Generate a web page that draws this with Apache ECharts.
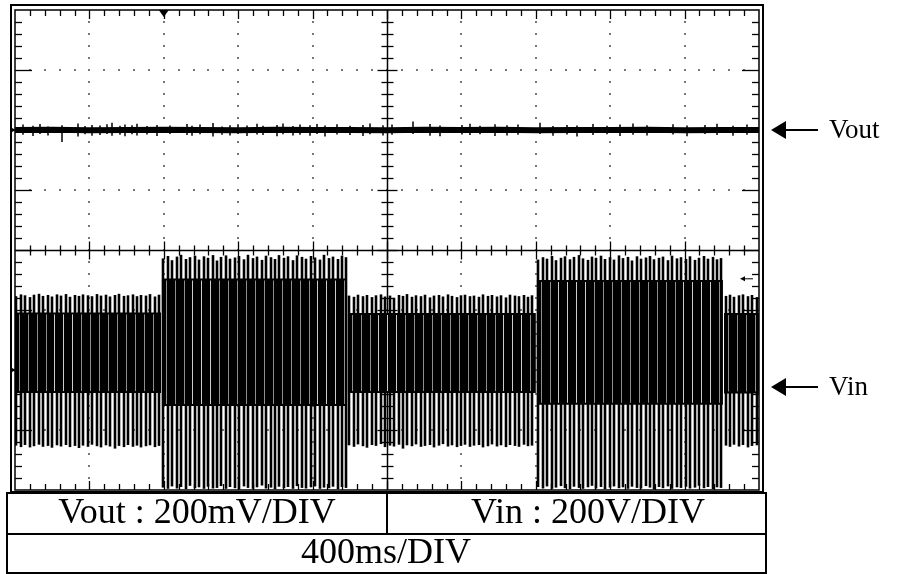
<!DOCTYPE html>
<html>
<head>
<meta charset="utf-8">
<script src="https://cdn.jsdelivr.net/npm/echarts@6/dist/echarts.min.js"></script>
<style>
html,body{margin:0;padding:0;background:#fff;}
#c{width:897px;height:574px;}
</style>
</head>
<body>
<div id="c"></div>
<script>
// ---------------- data ----------------
// Time axis: 400 ms / DIV, 10 DIV
const xTickLabels = ['0','400','800','1200','1600','2000','2400','2800','3200','3600','4000']; // ms (not displayed)
const scaleLabels = ['Vout : 200mV/DIV', 'Vin : 200V/DIV', '400ms/DIV'];
const traceNames = ['Vout', 'Vin'];

// Vout (ripple, mV) – baseline samples
const voutTimes  = [0,200,400,600,800,1000,1200,1400,1600,1800,2000,2200,2400,2600,2800,3000,3200,3400,3600,3800,4000];
const voutRipple = [0,1,-1,0,1,0,-1,1,0,0,-1,1,0,1,-1,0,0,1,-1,0,0];
// Vout noise spikes (ms, mV high, mV low)
const voutSpikeT  = [43,97,134,177,253,339,376,414,457,495,521,564,591,629,656,710,763,833,925,952,995,1064,1113,1156,1199,1247,1301,1333,1409,1441,1494,1532,1586,1624,1667,1731,1801,1871,1908,1978,2027,2140,2231,2285,2403,2446,2500,2580,2645,2704,2822,2892,2968,3021,3107,3183,3252,3322,3398,3537,3613,3709,3774,3860,3935];
const voutSpikeHi = [18,14,20,12,16,22,13,17,15,19,24,14,18,16,21,13,17,15,20,14,18,23,12,16,19,15,21,14,17,22,13,18,16,20,15,19,14,17,22,16,18,28,20,15,17,21,14,19,16,18,24,13,17,15,20,14,18,22,16,19,15,17,21,14,18];
const voutSpikeLo = [-16,-20,-13,-18,-40,-22,-14,-19,-17,-13,-19,-16,-21,-14,-18,-15,-20,-13,-17,-19,-14,-22,-16,-18,-13,-20,-15,-17,-21,-14,-18,-16,-19,-13,-22,-15,-17,-20,-14,-18,-16,-13,-19,-21,-15,-17,-14,-20,-18,-16,-13,-19,-15,-22,-17,-14,-20,-16,-18,-15,-21,-13,-17,-19,-16];

// Vin (V): segments of the burst pattern
const vinSegStart   = [0, 790, 1790, 2806, 3812];     // ms
const vinSegEnd     = [785, 1785, 2800, 3806, 4000]; // ms
const vinSpikeStep  = 24;                             // ms between sample columns
const vinBandTop    = [192, 305, 190, 300, 190];      // V
const vinBandBottom = [-77, -120, -77, -116, -78];    // V
const vinSpikeTop = [
  [246,252,249,243,251,254,247,250,245,252,248,253,244,250,247,252,249,246,253,248,251,245,250,254,247,249,252,246,250,248,253,245,251],
  [372,380,366,378,384,370,376,381,368,379,374,383,365,377,382,371,375,380,369,384,373,378,367,381,376,370,383,374,379,366,382,377,371,380,375,368,384,373,378,370,381,376],
  [248,244,251,246,250,243,249,252,245,248,241,250,247,253,244,249,246,251,242,248,250,245,252,247,243,249,251,246,248,244,252,247,250,245,249,242,251,248,246,250,244,249],
  [368,376,371,380,366,374,379,369,377,383,372,367,378,374,381,370,376,368,382,373,377,365,379,371,375,380,369,374,378,366,381,372,376,370,379,367,374,380,371,377,369,373],
  [247,251,244,249,252,246,250,243]
];
const vinSpikeBottom = [
  [-252,-257,-250,-258,-254,-249,-256,-253,-259,-251,-255,-250,-257,-253,-260,-252,-256,-249,-254,-258,-251,-255,-262,-253,-257,-250,-256,-252,-258,-254,-251,-257,-253],
  [-392,-396,-388,-395,-390,-397,-386,-394,-391,-396,-389,-395,-393,-387,-396,-390,-394,-398,-388,-393,-396,-391,-385,-395,-392,-397,-389,-394,-390,-396,-387,-393,-395,-391,-388,-396,-392,-394,-389,-397,-390,-393],
  [-251,-256,-248,-254,-259,-250,-253,-247,-257,-252,-255,-249,-262,-251,-254,-248,-256,-253,-250,-258,-252,-247,-255,-251,-257,-253,-249,-256,-252,-250,-258,-254,-248,-255,-251,-257,-250,-253,-256,-249,-254,-252],
  [-390,-395,-388,-396,-392,-387,-394,-397,-389,-393,-396,-391,-386,-395,-390,-397,-392,-388,-394,-391,-396,-389,-393,-395,-387,-392,-398,-390,-394,-388,-396,-391,-393,-389,-395,-392,-386,-394,-390,-397,-391,-393],
  [-252,-256,-249,-255,-250,-258,-253,-251]
];
const triggerTime = 800;       // ms (trigger position marker)
const triggerLevelDiv = -0.48; // div (trigger level marker)

// ---------------- build series data ----------------
const voutLine = voutTimes.map((t, i) => [t, voutRipple[i]]);
const voutSpikes = voutSpikeT.map((t, i) => [t, voutSpikeLo[i], voutSpikeHi[i]]);
const vinBands = vinSegStart.map((s, i) => [s, vinSegEnd[i], vinBandBottom[i], vinBandTop[i]]);
const vinSpikes = [];
vinSpikeTop.forEach((tops, s) => {
  tops.forEach((top, i) => {
    vinSpikes.push([vinSegStart[s] + 8 + i * vinSpikeStep, vinSpikeBottom[s][i], top]);
  });
});

const SERIF = "'Liberation Serif','DejaVu Serif','Times New Roman',serif";
const INK = '#000';

function graticule(params, api) {
  const ch = [];
  const c = (t, d) => api.coord([t, d]);
  const L = (x1, y1, x2, y2, w) => ch.push({type: 'line', shape: {x1, y1, x2, y2}, style: {stroke: INK, lineWidth: w || 1}});
  const D = (x, y) => ch.push({type: 'rect', shape: {x: x - 1, y: y - 1, width: 2, height: 2}, style: {fill: '#777'}});
  const pBL = c(0, -4), pTR = c(4000, 4);
  const left = pBL[0], bottom = pBL[1], right = pTR[0], top = pTR[1];
  const cx = Math.round(c(2000, 0)[0]) + 0.5, cy = Math.round(c(0, 0)[1]) + 0.5;
  // dotted major grid
  for (let k = 1; k < 10; k++) {
    if (k === 5) continue;
    const x = Math.round(c(k * 400, 0)[0]);
    for (let j = -19; j <= 19; j++) D(x, Math.round(c(0, j / 5)[1]));
  }
  for (let j = -3; j <= 3; j++) {
    if (j === 0) continue;
    const y = Math.round(c(0, j)[1]);
    for (let k = 1; k < 50; k++) D(Math.round(c(k * 80, 0)[0]), y);
  }
  // centre axes
  L(left, cy, right, cy, 1.5);
  L(cx, top, cx, bottom, 1.5);
  for (let k = 1; k < 50; k++) {
    const x = Math.round(c(k * 80, 0)[0]) + 0.5;
    const major = k % 5 === 0;
    const len = major ? 9 : 5;
    L(x, cy - len, x, cy + len, 1.3);
    const el = major ? 9 : 6;
    L(x, top, x, top + el, 1.3);
    L(x, bottom, x, bottom - el, 1.3);
  }
  for (let j = -19; j <= 19; j++) {
    const y = Math.round(c(0, j / 5)[1]) + 0.5;
    const major = j % 5 === 0;
    const len = major ? 10 : 6;
    L(cx - len, y, cx + len, y, 1.3);
    const el = major ? 17 : 7;
    L(left, y, left + el, y, 1.3);
    L(right, y, right - el, y, 1.3);
  }
  // trigger position marker (top)
  const tx = c(triggerTime, 4)[0];
  ch.push({type: 'polygon', shape: {points: [[tx - 5, top], [tx + 5, top], [tx, top + 7]]}, style: {fill: INK}});
  // trigger level marker (right)
  const ty = c(4000, triggerLevelDiv)[1];
  L(right - 16, ty, right - 6, ty, 1);
  ch.push({type: 'polygon', shape: {points: [[right - 19, ty], [right - 14, ty - 2.5], [right - 14, ty + 2.5]]}, style: {fill: INK}});
  // channel ground markers (left)
  [2, -2].forEach(d => {
    const gy = c(0, d)[1];
    ch.push({type: 'polygon', shape: {points: [[left - 5, gy - 3], [left + 1, gy], [left - 5, gy + 3]]}, style: {fill: INK}});
  });
  return {type: 'group', children: ch};
}

function renderVinBand(params, api) {
  const a = api.coord([api.value(0), api.value(3)]);
  const b = api.coord([api.value(1), api.value(2)]);
  const ch = [{type: 'rect', shape: {x: a[0], y: a[1], width: b[0] - a[0], height: b[1] - a[1]}, style: {fill: INK}}];
  const t0 = api.value(0), t1 = api.value(1);
  for (let i = 0, t = t0 + 8 + vinSpikeStep / 2; t < t1 - 4; i++, t += vinSpikeStep) {
    if (i % 2) continue;
    const x = Math.round(api.coord([t, 0])[0]) + 0.5;
    ch.push({type: 'line', shape: {x1: x, y1: a[1] + 2, x2: x, y2: b[1] - 2}, style: {stroke: '#fff', lineWidth: 1, opacity: 0.8}});
  }
  return {type: 'group', children: ch};
}

function renderVLine(width) {
  return function (params, api) {
    const lo = api.coord([api.value(0), api.value(1)]);
    const hi = api.coord([api.value(0), api.value(2)]);
    const x = Math.round(lo[0]);
    return {type: 'line', shape: {x1: x, y1: lo[1], x2: x, y2: hi[1]}, style: {stroke: INK, lineWidth: width}};
  };
}

const chart = echarts.init(document.getElementById('c'), null, {renderer: 'canvas'});
chart.setOption({
  animation: false,
  backgroundColor: '#fff',
  grid: {left: 15, top: 10, right: 138, bottom: 84, show: true, borderColor: INK, borderWidth: 1.5, backgroundColor: 'transparent'},
  xAxis: {type: 'value', min: 0, max: 4000, interval: 400, show: false},
  yAxis: [
    {type: 'value', name: 'Vout', min: -1200, max: 400, interval: 200, show: false},
    {type: 'value', name: 'Vin', min: -400, max: 1200, interval: 200, show: false},
    {type: 'value', name: 'div', min: -4, max: 4, interval: 1, show: false}
  ],
  series: [
    {type: 'custom', name: 'graticule', yAxisIndex: 2, z: 1, silent: true, clip: false,
     renderItem: graticule, data: [[2000, 0]]},
    {type: 'custom', name: 'Vin band', yAxisIndex: 1, z: 3, silent: true, clip: true,
     renderItem: renderVinBand, encode: {x: [0, 1], y: [2, 3]}, data: vinBands},
    {type: 'custom', name: 'Vin', yAxisIndex: 1, z: 4, silent: true, clip: true,
     renderItem: renderVLine(2.6), encode: {x: 0, y: [1, 2]}, data: vinSpikes},
    {type: 'line', name: 'Vout', yAxisIndex: 0, z: 5, silent: true, symbol: 'none',
     lineStyle: {color: INK, width: 6}, data: voutLine},
    {type: 'custom', name: 'Vout noise', yAxisIndex: 0, z: 5, silent: true, clip: true,
     renderItem: renderVLine(1.5), encode: {x: 0, y: [1, 2]}, data: voutSpikes}
  ],
  graphic: [
    // outer scope frame
    {type: 'rect', shape: {x: 11, y: 5, width: 752, height: 487}, style: {fill: 'none', stroke: INK, lineWidth: 2}, z: 10},
    // scale table
    {type: 'rect', shape: {x: 7, y: 493, width: 759, height: 80}, style: {fill: '#fff', stroke: INK, lineWidth: 2}, z: 10},
    {type: 'line', shape: {x1: 7, y1: 534, x2: 766, y2: 534}, style: {stroke: INK, lineWidth: 2}, z: 11},
    {type: 'line', shape: {x1: 387, y1: 493, x2: 387, y2: 534}, style: {stroke: INK, lineWidth: 2}, z: 11},
    {type: 'text', x: 197, y: 514, z: 12, style: {text: scaleLabels[0], font: '36px ' + SERIF, fill: INK, textAlign: 'center', textVerticalAlign: 'middle'}},
    {type: 'text', x: 588, y: 514, z: 12, style: {text: scaleLabels[1], font: '36px ' + SERIF, fill: INK, textAlign: 'center', textVerticalAlign: 'middle'}},
    {type: 'text', x: 386, y: 554, z: 12, style: {text: scaleLabels[2], font: '36px ' + SERIF, fill: INK, textAlign: 'center', textVerticalAlign: 'middle'}},
    // channel labels with arrows
    {type: 'polygon', shape: {points: [[771, 130], [786, 121], [786, 139]]}, style: {fill: INK}, z: 12},
    {type: 'line', shape: {x1: 785, y1: 130, x2: 818, y2: 130}, style: {stroke: INK, lineWidth: 2}, z: 12},
    {type: 'text', x: 829, y: 131, z: 12, style: {text: traceNames[0], font: '27px ' + SERIF, fill: INK, textAlign: 'left', textVerticalAlign: 'middle'}},
    {type: 'polygon', shape: {points: [[771, 387], [786, 378], [786, 396]]}, style: {fill: INK}, z: 12},
    {type: 'line', shape: {x1: 785, y1: 387, x2: 818, y2: 387}, style: {stroke: INK, lineWidth: 2}, z: 12},
    {type: 'text', x: 829, y: 388, z: 12, style: {text: traceNames[1], font: '27px ' + SERIF, fill: INK, textAlign: 'left', textVerticalAlign: 'middle'}}
  ]
});
</script>
</body>
</html>
